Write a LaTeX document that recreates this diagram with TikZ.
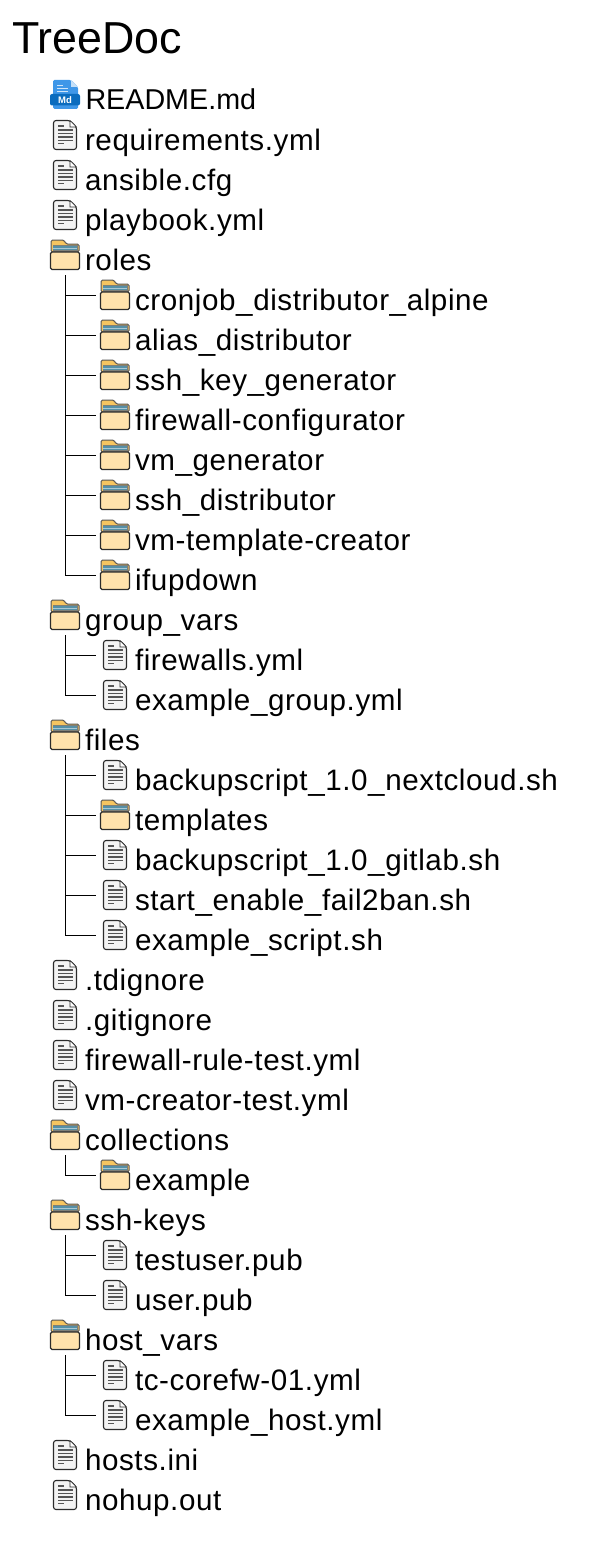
\documentclass[tikz,border=0pt]{standalone}
\usepackage{fontspec}
\setmainfont{Liberation Sans}
\newfontfamily\rowfont[LetterSpace=2]{Liberation Sans}
\definecolor{ink}{HTML}{2B2B2B}
\definecolor{bodyc}{HTML}{FFE2AC}
\definecolor{backc}{HTML}{F6C560}
\definecolor{paperc}{HTML}{5590A6}
\definecolor{paperg}{HTML}{7F7F78}
\definecolor{filec}{HTML}{F3F3F3}
\definecolor{mdl}{HTML}{3F97E8}
\definecolor{mdd}{HTML}{0B6CBE}
\tikzset{
 x=1pt,y=-1pt,
 iconbox/.style={minimum width=30pt,minimum height=30pt,inner sep=0pt,outer sep=0pt},
 lbl/.style={anchor=base west,inner sep=0pt,outer sep=0pt,text=black,font=\rowfont\fontsize{29.6}{32}\selectfont},
 tree/.style={draw=black,line width=.9pt,shorten <=5pt,shorten >=4pt},
 fileicon/.pic={
  \path[fill=filec,draw=ink,line width=1.1pt,rounded corners=2.5pt] (-11.5,-14.5) -- (5,-14.5) -- (11.5,-8) -- (11.5,14.5) -- (-11.5,14.5) -- cycle;
  \path[fill=white,draw=ink,line width=.6pt] (5,-14.5) -- (5,-8) -- (11.5,-8) -- cycle;
  \foreach \yy/\xe in {-9/-1,-5/8,-1.5/8,2/8,5.2/8,8.5/-1}
   \draw[ink!80,line width=1.3pt] (-7,\yy) -- (\xe,\yy);
 },
 foldericon/.pic={
  \path[fill=backc,draw=ink!80,line width=1pt,rounded corners=1.5pt] (-14,-3) -- (-14,-15) -- (-1,-15) -- (1,-11) -- (14,-11) -- (14,-3) -- cycle;
  \fill[paperg] (-12.5,-10.5) rectangle (12.5,-3);
  \fill[paperc] (-12,-9.5) rectangle (12,-5);
  \draw[white!50!paperc,line width=.4pt] (-12,-7.3) -- (12,-7.3);
  \path[fill=bodyc,draw=ink,line width=1.2pt,rounded corners=1.5pt] (-14.5,-3) rectangle (14.5,14.5);
 },
 mdicon/.pic={
  \path[fill=mdl,rounded corners=1.5pt] (-12,-15) -- (6,-15) -- (13,-8) -- (13,14) -- (-12,14) -- cycle;
  \fill[white!70!mdl] (6,-15) -- (6,-8) -- (13,-8) -- cycle;
  \foreach \yy/\xe in {-10/-2,-7/3,-4/3} \draw[white!75!mdl,line width=.9pt] (-8,\yy) -- (\xe,\yy);
  \path[fill=mdd,rounded corners=2pt] (-15,-1) rectangle (15,10.5);
  \node[text=white,inner sep=0pt,font=\fontsize{9.5}{9}\selectfont\bfseries] (mdtag) at (0,4.8) {Md};
 },
}
% \rowitem{name}{icon x centre}{row y}{icon}{text}
\newcommand{\rowitem}[5]{%
 \node[iconbox] (#1I) at (#2,#3-5) {};
 \pic at (#1I.center) {#4};
 \node[lbl] (#1T) at (#2+20,#3+10) {#5};
}
\newcommand{\rootrow}[4]{\rowitem{#1}{65}{#2}{#3}{#4}}
\newcommand{\kidrow}[4]{\rowitem{#1}{115}{#2}{#3}{#4}}
\begin{document}
\begin{tikzpicture}
\useasboundingbox (0,0) rectangle (591,1560);
\node[anchor=base west,inner sep=0pt,font=\fontsize{44.8}{48}\selectfont] (title) at (12,54) {TreeDoc};
\node[iconbox] (readmeI) at (65,95) {};
\pic at (readmeI.center) {mdicon};
\node[lbl,font=\fontsize{28.7}{32}\selectfont] (readmeT) at (85.5,110) {README.md};
\rootrow{req}{140}{fileicon}{requirements.yml}
\rootrow{ans}{180}{fileicon}{ansible.cfg}
\rootrow{play}{220}{fileicon}{playbook.yml}
\rootrow{roles}{260}{foldericon}{roles}
\kidrow{cron}{300}{foldericon}{cronjob\_distributor\_alpine}
\kidrow{alias}{340}{foldericon}{alias\_distributor}
\kidrow{sshgen}{380}{foldericon}{ssh\_key\_generator}
\kidrow{fw}{420}{foldericon}{firewall-configurator}
\kidrow{vmgen}{460}{foldericon}{vm\_generator}
\kidrow{sshdist}{500}{foldericon}{ssh\_distributor}
\kidrow{vmt}{540}{foldericon}{vm-template-creator}
\kidrow{ifup}{580}{foldericon}{ifupdown}
\rootrow{gv}{620}{foldericon}{group\_vars}
\kidrow{fwy}{660}{fileicon}{firewalls.yml}
\kidrow{exg}{700}{fileicon}{example\_group.yml}
\rootrow{files}{740}{foldericon}{files}
\kidrow{bnc}{780}{fileicon}{backupscript\_1.0\_nextcloud.sh}
\kidrow{tpl}{820}{foldericon}{templates}
\kidrow{bgl}{860}{fileicon}{backupscript\_1.0\_gitlab.sh}
\kidrow{sef}{900}{fileicon}{start\_enable\_fail2ban.sh}
\kidrow{exs}{940}{fileicon}{example\_script.sh}
\rootrow{tdi}{980}{fileicon}{.tdignore}
\rootrow{git}{1020}{fileicon}{.gitignore}
\rootrow{frt}{1060}{fileicon}{firewall-rule-test.yml}
\rootrow{vct}{1100}{fileicon}{vm-creator-test.yml}
\rootrow{col}{1140}{foldericon}{collections}
\kidrow{colex}{1180}{foldericon}{example}
\rootrow{ssh}{1220}{foldericon}{ssh-keys}
\kidrow{tu}{1260}{fileicon}{testuser.pub}
\kidrow{us}{1300}{fileicon}{user.pub}
\rootrow{hv}{1340}{foldericon}{host\_vars}
\kidrow{tc}{1380}{fileicon}{tc-corefw-01.yml}
\kidrow{exh}{1420}{fileicon}{example\_host.yml}
\rootrow{hosts}{1460}{fileicon}{hosts.ini}
\rootrow{noh}{1500}{fileicon}{nohup.out}
\foreach \p/\kids in {roles/{cron,alias,sshgen,fw,vmgen,sshdist,vmt,ifup},gv/{fwy,exg},files/{bnc,tpl,bgl,sef,exs},col/{colex},ssh/{tu,us},hv/{tc,exh}}
 \foreach \k in \kids
  \draw[tree] (\p I.south) |- (\k I.west);
\end{tikzpicture}
\end{document}
